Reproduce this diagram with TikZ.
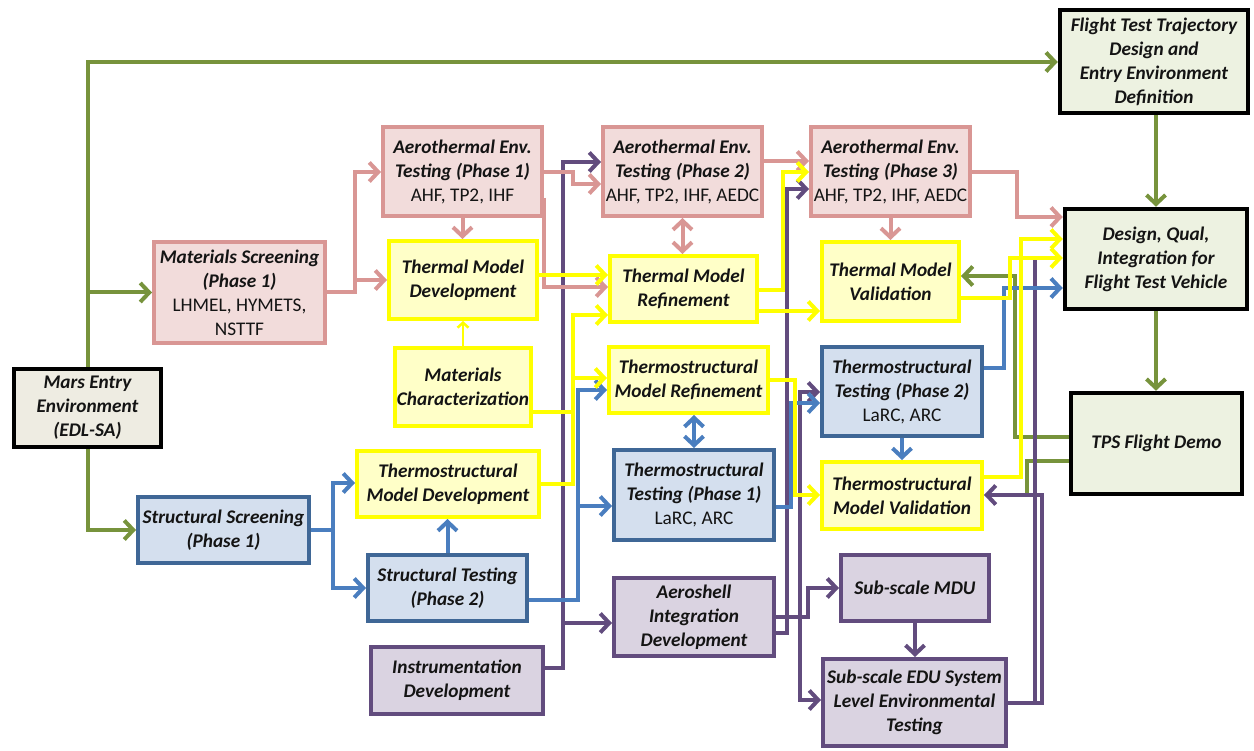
\documentclass[tikz,border=0pt]{standalone}
\usepackage{fontspec}
\setmainfont{Carlito}
\usetikzlibrary{arrows.meta}

\definecolor{pinkfill}{HTML}{F2DCDB}
\definecolor{pinkline}{HTML}{D99694}
\definecolor{yelfill}{HTML}{FFFFC8}
\definecolor{yelline}{HTML}{FFFF00}
\definecolor{bluefill}{HTML}{D4DFEE}
\definecolor{blueline}{HTML}{3F6796}
\definecolor{bluearr}{HTML}{4A7EBF}
\definecolor{purfill}{HTML}{DAD3E1}
\definecolor{purline}{HTML}{624C7E}
\definecolor{grnline}{HTML}{77933C}
\definecolor{grnfill}{HTML}{EDF2E1}
\definecolor{begfill}{HTML}{EEECE2}
\definecolor{inkc}{HTML}{141414}

\newcommand\hd{\fontsize{19.3}{24}\selectfont\bfseries\itshape}
\newcommand\fac[1]{{\normalfont\fontsize{19.3}{24}\selectfont #1}}

\tikzset{
  box/.style={draw, line width=4pt, align=center, inner sep=1pt, font=\hd, text=inkc},
  pinkbox/.style={box, fill=pinkfill, draw=pinkline},
  yelbox/.style={box, fill=yelfill, draw=yelline},
  bluebox/.style={box, fill=bluefill, draw=blueline},
  purbox/.style={box, fill=purfill, draw=purline},
  grnbox/.style={box, fill=grnfill, draw=black, line width=4.5pt},
  begbox/.style={box, fill=begfill, draw=black, line width=4.5pt},
  conn/.style={line width=4pt, -{Straight Barb[length=9pt,width=19pt]}},
  dconn/.style={line width=4pt, {Straight Barb[length=9pt,width=19pt]}-{Straight Barb[length=9pt,width=19pt]}},
  seg/.style={line width=4pt},
  gc/.style={draw=grnline},
  pc/.style={draw=purline},
  kc/.style={draw=pinkline},
  bc/.style={draw=bluearr},
  yc/.style={draw=yelline},
}

\begin{document}
\begin{tikzpicture}[x=1pt,y=-1pt]
\fill[white] (0,0) rectangle (1254,751);
\useasboundingbox (0,0) rectangle (1254,751);

% ---- boxes ----
\node[grnbox, minimum width=188pt, minimum height=103pt] (ftt) at (1154,61.5)
  {Flight Test Trajectory\\Design and\\Entry Environment\\Definition};
\node[grnbox, minimum width=182pt, minimum height=100pt] (dqi) at (1156,259)
  {Design, Qual,\\Integration for\\Flight Test Vehicle};
\node[grnbox, minimum width=171pt, minimum height=101pt] (tps) at (1156.5,443.5)
  {TPS Flight Demo};
\node[begbox, minimum width=147pt, minimum height=78pt] (mee) at (87.5,408)
  {Mars Entry\\Environment\\(EDL-SA)};

\node[pinkbox, minimum width=171pt, minimum height=101pt] (ms) at (239.5,292.5)
  {Materials Screening\\(Phase 1)\\\fac{LHMEL, HYMETS,}\\\fac{NSTTF}};
\node[pinkbox, minimum width=159pt, minimum height=89pt] (ae1) at (462.5,171.5)
  {Aerothermal Env.\\Testing (Phase 1)\\\fac{AHF, TP2, IHF}};
\node[pinkbox, minimum width=159pt, minimum height=89pt] (ae2) at (682.5,171.5)
  {Aerothermal Env.\\Testing (Phase 2)\\\fac{AHF, TP2, IHF, AEDC}};
\node[pinkbox, minimum width=159pt, minimum height=89pt] (ae3) at (890.5,171.5)
  {Aerothermal Env.\\Testing (Phase 3)\\\fac{AHF, TP2, IHF, AEDC}};

\node[yelbox, minimum width=148pt, minimum height=78pt] (tmd) at (463,280)
  {Thermal Model\\Development};
\node[yelbox, minimum width=136pt, minimum height=78pt] (mc) at (463,387)
  {Materials\\Characterization};
\node[yelbox, minimum width=147pt, minimum height=66pt] (tmr) at (683.5,289)
  {Thermal Model\\Refinement};
\node[yelbox, minimum width=137pt, minimum height=79pt] (tmv) at (890.5,281.5)
  {Thermal Model\\Validation};
\node[yelbox, minimum width=159pt, minimum height=66pt] (tsmr) at (688.5,380)
  {Thermostructural\\Model Refinement};
\node[yelbox, minimum width=182pt, minimum height=66pt] (tsmd) at (448,484)
  {Thermostructural\\Model Development};
\node[yelbox, minimum width=160pt, minimum height=67pt] (tsmv) at (902,495.5)
  {Thermostructural\\Model Validation};

\node[bluebox, minimum width=160pt, minimum height=90pt] (tst1) at (694,495)
  {Thermostructural\\Testing (Phase 1)\\\fac{LaRC, ARC}};
\node[bluebox, minimum width=160pt, minimum height=89pt] (tst2) at (902,391.5)
  {Thermostructural\\Testing (Phase 2)\\\fac{LaRC, ARC}};
\node[bluebox, minimum width=171pt, minimum height=66pt] (ss) at (223.5,530)
  {Structural Screening\\(Phase 1)};
\node[bluebox, minimum width=159pt, minimum height=66pt] (st2) at (447.5,588)
  {Structural Testing\\(Phase 2)};

\node[purbox, minimum width=172pt, minimum height=67pt] (id) at (457,680.5)
  {Instrumentation\\Development};
\node[purbox, minimum width=160pt, minimum height=78pt] (aid) at (694,617)
  {Aeroshell\\Integration\\Development};
\node[purbox, minimum width=148pt, minimum height=66pt] (mdu) at (915,588)
  {Sub-scale MDU};
\node[purbox, minimum width=183pt, minimum height=87pt] (edu) at (914.5,702.5)
  {Sub-scale EDU System\\Level Environmental\\Testing};

% free ends that run into other lines
\coordinate (gend) at (1027,493);
\coordinate (pend) at (1035,258);

% ---- green links ----
\draw[conn,gc] (mee.north) -- (mee.north |- 0,62) -- (ftt.west |- 0,62);
\draw[conn,gc] (mee.north |- ms.west) -- (ms.west);
\draw[conn,gc] (mee.south) -- (mee.south |- ss.west) -- (ss.west);
\draw[conn,gc] (dqi.north |- ftt.south) -- (dqi.north);
\draw[conn,gc] (dqi.south) -- (dqi.south |- tps.north);
\draw[conn,gc] (tps.west |- 0,437) -- (1015,437) -- (1015,276) -- (tmv.east |- 0,276);
\draw[seg,gc] (tps.west |- 0,461) -- (1027,461) -- (gend);

% ---- purple links ----
\draw[conn,pc] (id.east |- 0,668) -- (563,668) -- (563,162) -- (ae2.west |- 0,162);
\draw[conn,pc] (563,623) -- (aid.west |- 0,623);
\draw[conn,pc] (aid.east |- 0,633) -- (787,633) -- (787,189) -- (ae3.west |- 0,189);
\draw[conn,pc] (aid.east |- 0,617) -- (808,617) -- (808,588) -- (mdu.west |- 0,588);
\draw[conn,pc] (800,617) -- (800,392) -- (tst2.west |- 0,392);
\draw[conn,pc] (800,617) -- (800,700) -- (edu.west |- 0,700);
\draw[conn,pc] (mdu.south) -- (mdu.south |- edu.north);
\draw[seg,pc] (edu.east |- 0,703) -- (1035,703) -- (pend);
\draw[conn,pc] (edu.east |- 0,703) -- (1042,703) -- (1042,495) -- (tsmv.east |- 0,495);

% ---- pink links ----
\draw[conn,kc] (ms.east) -- (355,292.5) -- (355,172) -- (ae1.west |- 0,172);
\draw[conn,kc] (355,280) -- (tmd.west |- 0,280);
\draw[conn,kc] (ae1.south) -- (ae1.south |- tmd.north);
\draw[conn,kc] (ae1.east |- 0,172) -- (573,172) -- (573,184) -- (ae2.west |- 0,184);
\draw[conn,kc] (ae1.east |- 0,198) -- (ae1.east |- 0,287) -- (tmr.west |- 0,287);
\draw[dconn,kc] (ae2.south) -- (ae2.south |- tmr.north);
\draw[conn,kc] (ae2.east |- 0,161) -- (ae3.west |- 0,161);
\draw[conn,kc] (ae3.south) -- (ae3.south |- tmv.north);
\draw[conn,kc] (ae3.east |- 0,172) -- (1017,172) -- (1017,217) -- (dqi.west |- 0,217);

% ---- blue links ----
\draw[conn,bc] (ss.east) -- (333,530) -- (333,483) -- (tsmd.west |- 0,483);
\draw[conn,bc] (333,530) -- (333,588) -- (st2.west |- 0,588);
\draw[conn,bc] (st2.north) -- (st2.north |- tsmd.south);
\draw[conn,bc] (st2.east |- 0,600) -- (578,600) -- (578,390) -- (tsmr.west |- 0,390);
\draw[conn,bc] (578,506) -- (tst1.west |- 0,506);
\draw[dconn,bc] (tst1.north |- tsmr.south) -- (tst1.north);
\draw[conn,bc] (tst1.east |- 0,507) -- (791,507) -- (791,403) -- (tst2.west |- 0,403);
\draw[conn,bc] (tst2.south) -- (tst2.south |- tsmv.north);
\draw[conn,bc] (tst2.east |- 0,368) -- (1004,368) -- (1004,288) -- (dqi.west |- 0,288);

% ---- yellow links ----
\draw[conn,yc] (tmd.east |- 0,275) -- (tmr.west |- 0,275);
\draw[yc, line width=2.5pt, -{Straight Barb[length=5pt,width=11pt]}] (mc.north) -- (mc.north |- tmd.south);
\draw[conn,yc] (mc.east |- 0,412) -- (573,412) -- (573,315) -- (tmr.west |- 0,315);
\draw[conn,yc] (tsmd.east |- 0,484) -- (573,484) -- (573,378) -- (tsmr.west |- 0,378);
\draw[conn,yc] (tmr.east |- 0,290) -- (783,290) -- (783,172) -- (ae3.west |- 0,172);
\draw[conn,yc] (tmr.east |- 0,311) -- (tmv.west |- 0,311);
\draw[conn,yc] (tsmr.east |- 0,380) -- (795,380) -- (795,495) -- (tsmv.west |- 0,495);
\draw[conn,yc] (tsmv.east |- 0,477) -- (1021,477) -- (1021,239) -- (dqi.west |- 0,239);
\draw[conn,yc] (tmv.east |- 0,298) -- (1010,298) -- (1010,258) -- (dqi.west |- 0,258);
\end{tikzpicture}
\end{document}
